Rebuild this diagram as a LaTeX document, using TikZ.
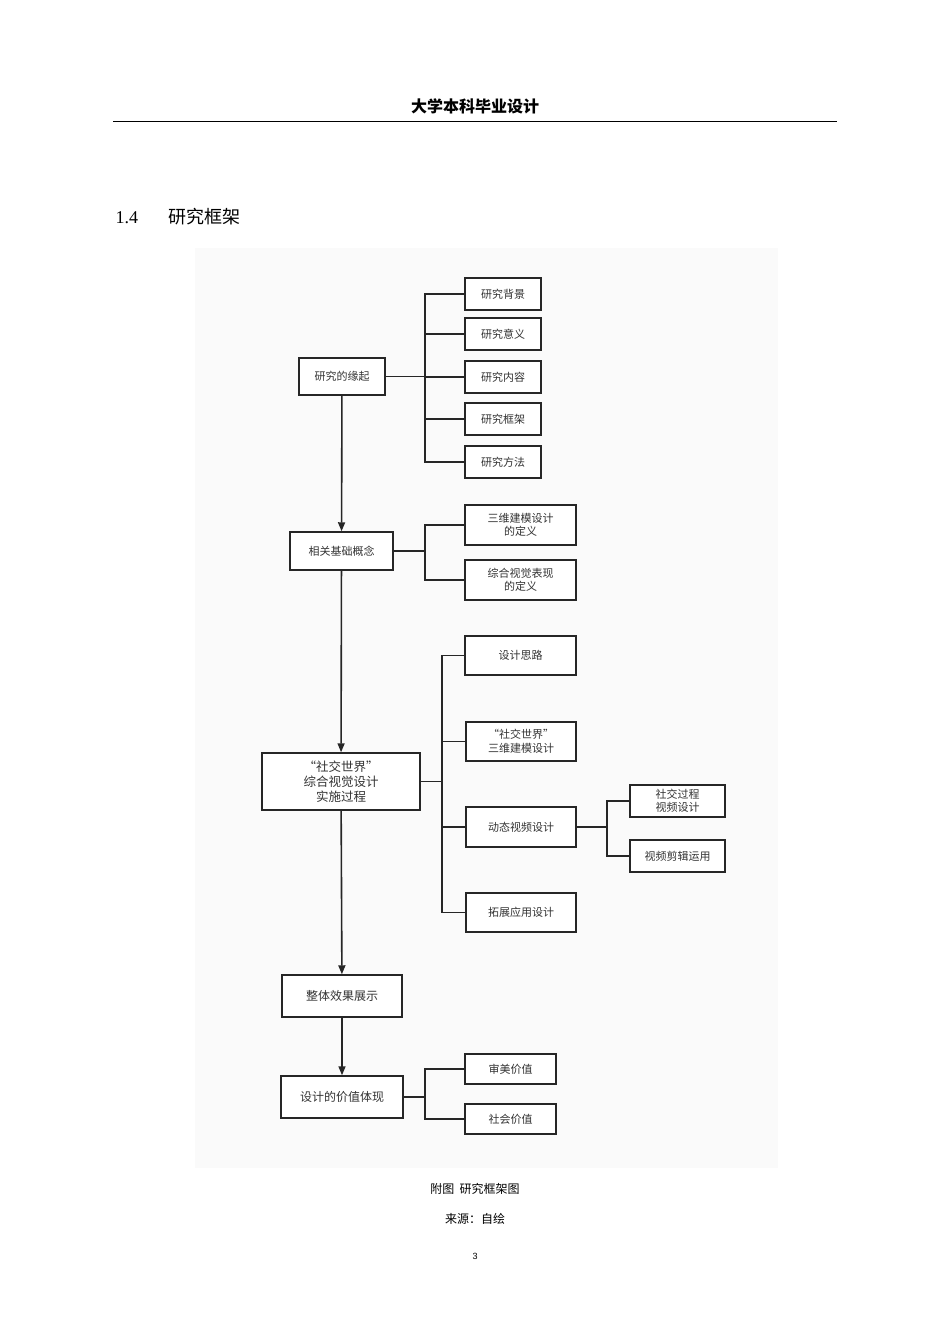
\documentclass[tikz,border=0pt]{standalone}
\usepackage{fontspec}
\setmainfont{Liberation Serif}
\setsansfont{Liberation Sans}
\newfontfamily\cjk{Noto Sans CJK SC}
\usetikzlibrary{arrows.meta}
\begin{document}
\begin{tikzpicture}[x=1pt,y=-1pt,
  bx/.style={draw=black!85,line width=1.5pt,fill=white,font=\cjk\fontsize{11}{13.5}\selectfont,align=center,inner sep=0pt,text=black!80},
  ln/.style={line width=1.6pt,draw=black!85},
  ar/.style={ln,-{Triangle[length=9pt,width=7pt]}}]
\useasboundingbox (0,0) rectangle (950,1344);
\fill[black!2] (195,248) rectangle (778,1168);
\node[font=\cjk\bfseries\fontsize{16}{18}\selectfont] (hdr) at (475,106) {大学本科毕业设计};
\draw[line width=0.8pt] (113,121) -- (837,121);
\node[anchor=west,font=\fontsize{18}{21}\selectfont] (sec) at (112,218) {1.4};
\node[anchor=west,font=\cjk\fontsize{18}{21}\selectfont] (sect) at (165,217) {研究框架};
% boxes
\node[bx,minimum width=86pt,minimum height=37pt] (a) at (342,376.5) {研究的缘起};
\foreach \n/\y/\t in {a1/294/研究背景,a2/334/研究意义,a3/377/研究内容,a4/419/研究框架,a5/462/研究方法}
  \node[bx,minimum width=76pt,minimum height=32pt] (\n) at (503,\y) {\t};
\node[bx,minimum width=103pt,minimum height=38pt] (b) at (341.5,551) {相关基础概念};
\node[bx,minimum width=111pt,minimum height=40pt] (b1) at (520.5,525) {三维建模设计\\的定义};
\node[bx,minimum width=111pt,minimum height=40pt] (b2) at (520.5,580) {综合视觉表现\\的定义};
\node[bx,minimum width=158pt,minimum height=57pt,font=\cjk\fontsize{12.5}{15}\selectfont] (c) at (341,781.5) {“社交世界”\\综合视觉设计\\实施过程};
\node[bx,minimum width=111pt,minimum height=39pt] (c1) at (520.5,655.5) {设计思路};
\node[bx,minimum width=110pt,minimum height=39pt] (c2) at (521,741.5) {“社交世界”\\三维建模设计};
\node[bx,minimum width=110pt,minimum height=40pt] (c3) at (521,827) {动态视频设计};
\node[bx,minimum width=110pt,minimum height=39pt] (c4) at (521,912.5) {拓展应用设计};
\node[bx,minimum width=95pt,minimum height=32pt] (d1) at (677.5,801) {社交过程\\视频设计};
\node[bx,minimum width=95pt,minimum height=32pt] (d2) at (677.5,856) {视频剪辑运用};
\node[bx,minimum width=120pt,minimum height=42pt,font=\cjk\fontsize{12}{14}\selectfont] (e) at (342,996) {整体效果展示};
\node[bx,minimum width=122pt,minimum height=42pt,font=\cjk\fontsize{12}{14}\selectfont] (f) at (342,1097) {设计的价值体现};
\node[bx,minimum width=91pt,minimum height=30pt] (f1) at (510.5,1069) {审美价值};
\node[bx,minimum width=91pt,minimum height=30pt] (f2) at (510.5,1119) {社会价值};
% main arrows
\draw[ar] (a) -- (b);
\draw[ar] (b) -- (c);
\draw[ar] (c) -- (e);
\draw[ar] (e) -- (f);
% brackets
\coordinate (ja) at (425,376.5);
\draw[ln] (a.east) -- (ja);
\foreach \n in {a1,a2,a3,a4,a5} \draw[ln] (ja) |- (\n.west);
\coordinate (jb) at (425,551);
\draw[ln] (b.east) -- (jb);
\foreach \n in {b1,b2} \draw[ln] (jb) |- (\n.west);
\coordinate (jc) at (442,781.5);
\draw[ln] (c.east) -- (jc);
\foreach \n in {c1,c2,c3,c4} \draw[ln] (jc) |- (\n.west);
\coordinate (jd) at (607,827);
\draw[ln] (c3.east) -- (jd);
\foreach \n in {d1,d2} \draw[ln] (jd) |- (\n.west);
\coordinate (jf) at (425,1097);
\draw[ln] (f.east) -- (jf);
\foreach \n in {f1,f2} \draw[ln] (jf) |- (\n.west);
% captions
\node[font=\cjk\fontsize{12}{14}\selectfont] (cap1) at (475,1189) {附图\ \ 研究框架图};
\node[font=\cjk\fontsize{12}{14}\selectfont] (cap2) at (475,1219) {来源：自绘};
\node[font=\fontsize{9}{11}\selectfont\sffamily] (pg) at (475,1256) {3};
\end{tikzpicture}
\end{document}
